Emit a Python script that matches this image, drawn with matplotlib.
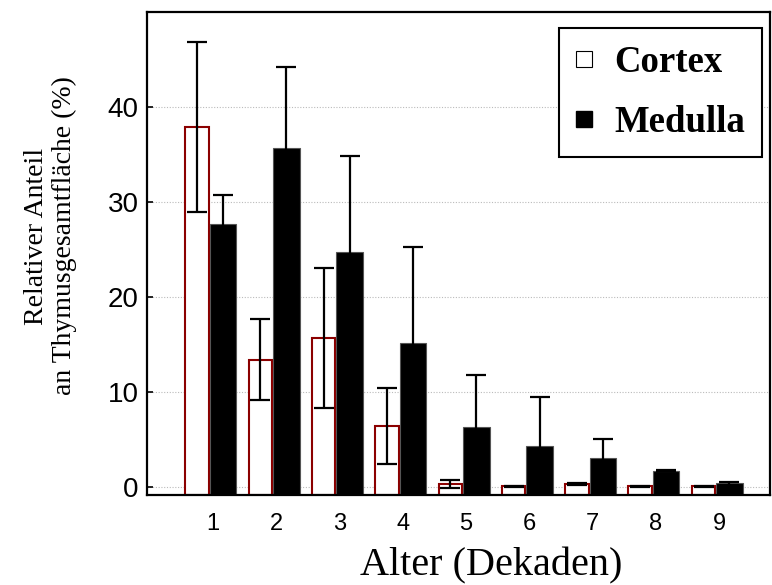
import numpy as np
import matplotlib.pyplot as plt
from matplotlib.lines import Line2D

decades = [1, 2, 3, 4, 5, 6, 7, 8, 9]
cortex = [37.9, 13.4, 15.7, 6.4, 0.35, 0.05, 0.28, 0.07, 0.07]
cortex_err = [8.9, 4.25, 7.35, 4.0, 0.42, 0.05, 0.1, 0.05, 0.05]
medulla = [27.65, 35.7, 24.7, 15.2, 6.35, 4.35, 3.0, 1.7, 0.4]
medulla_err = [3.1, 8.5, 10.1, 10.1, 5.45, 5.15, 2.1, 0.05, 0.15]
yticks = [0, 10, 20, 30, 40]

x = np.array(decades, dtype=float)
ymin, ymax = -0.85, 50.0

fig = plt.figure(figsize=(7.72, 5.85), dpi=100)
ax = fig.add_axes([0.1904, 0.1538, 0.807, 0.8256])

xc = x - 0.25
xm = x + 0.16
ax.bar(xc, np.array(cortex) - ymin, bottom=ymin, width=0.37, color='white',
       edgecolor='#8b0000', linewidth=1.5, zorder=2)
ax.bar(xm, np.array(medulla) - ymin, bottom=ymin, width=0.42, color='black',
       edgecolor='#555555', linewidth=0.8, zorder=2)
ax.errorbar(xc, cortex, yerr=cortex_err, fmt='none', ecolor='black',
            elinewidth=1.6, capsize=7, capthick=1.6, zorder=3)
ax.errorbar(xm, medulla, yerr=medulla_err, fmt='none', ecolor='black',
            elinewidth=1.6, capsize=7, capthick=1.6, zorder=3)

ax.set_xlim(-0.04, 9.80)
ax.set_ylim(ymin, ymax)
ax.set_yticks(yticks)
ax.set_xticks(decades)
ax.set_yticklabels([str(t) for t in yticks], fontsize=20, family='Liberation Sans')
ax.set_xticklabels([str(d) for d in decades], fontsize=17, family='Liberation Sans')
ax.tick_params(axis='y', direction='in', length=4, width=1.2, pad=6)
ax.tick_params(axis='x', length=0, pad=13)
ax.yaxis.grid(True, linestyle=(0, (1, 1.5)), color='#bbbbbb', linewidth=0.8)
ax.set_axisbelow(True)
for s in ax.spines.values():
    s.set_linewidth(1.6)

ax.set_xlabel('Alter (Dekaden)', fontsize=29, family='Liberation Serif', va='baseline')
ax.xaxis.set_label_coords(0.552, -0.166)
fig.text(0.066, 1 - 236 / 585, 'Relativer Anteil\nan Thymusgesamtfläche (%)',
         rotation=90, ha='center', va='center', multialignment='center',
         fontsize=20, family='Liberation Serif', linespacing=1.15)

handles = [Line2D([], [], marker='s', linestyle='none', markersize=11,
                  markerfacecolor='white', markeredgecolor='black', markeredgewidth=0.8),
           Line2D([], [], marker='s', linestyle='none', markersize=12,
                  markerfacecolor='black', markeredgecolor='black')]
leg = ax.legend(handles, ['Cortex', 'Medulla'], loc='upper right',
                bbox_to_anchor=(0.987, 0.967),
                prop={'family': 'Liberation Serif', 'weight': 'bold', 'size': 26.5},
                fancybox=False, framealpha=1, edgecolor='black',
                borderpad=0.45, labelspacing=0.7, handletextpad=0.6,
                borderaxespad=0.0, handlelength=0.46)
leg.get_frame().set_linewidth(1.5)

fig.savefig('out.png', dpi=100)
